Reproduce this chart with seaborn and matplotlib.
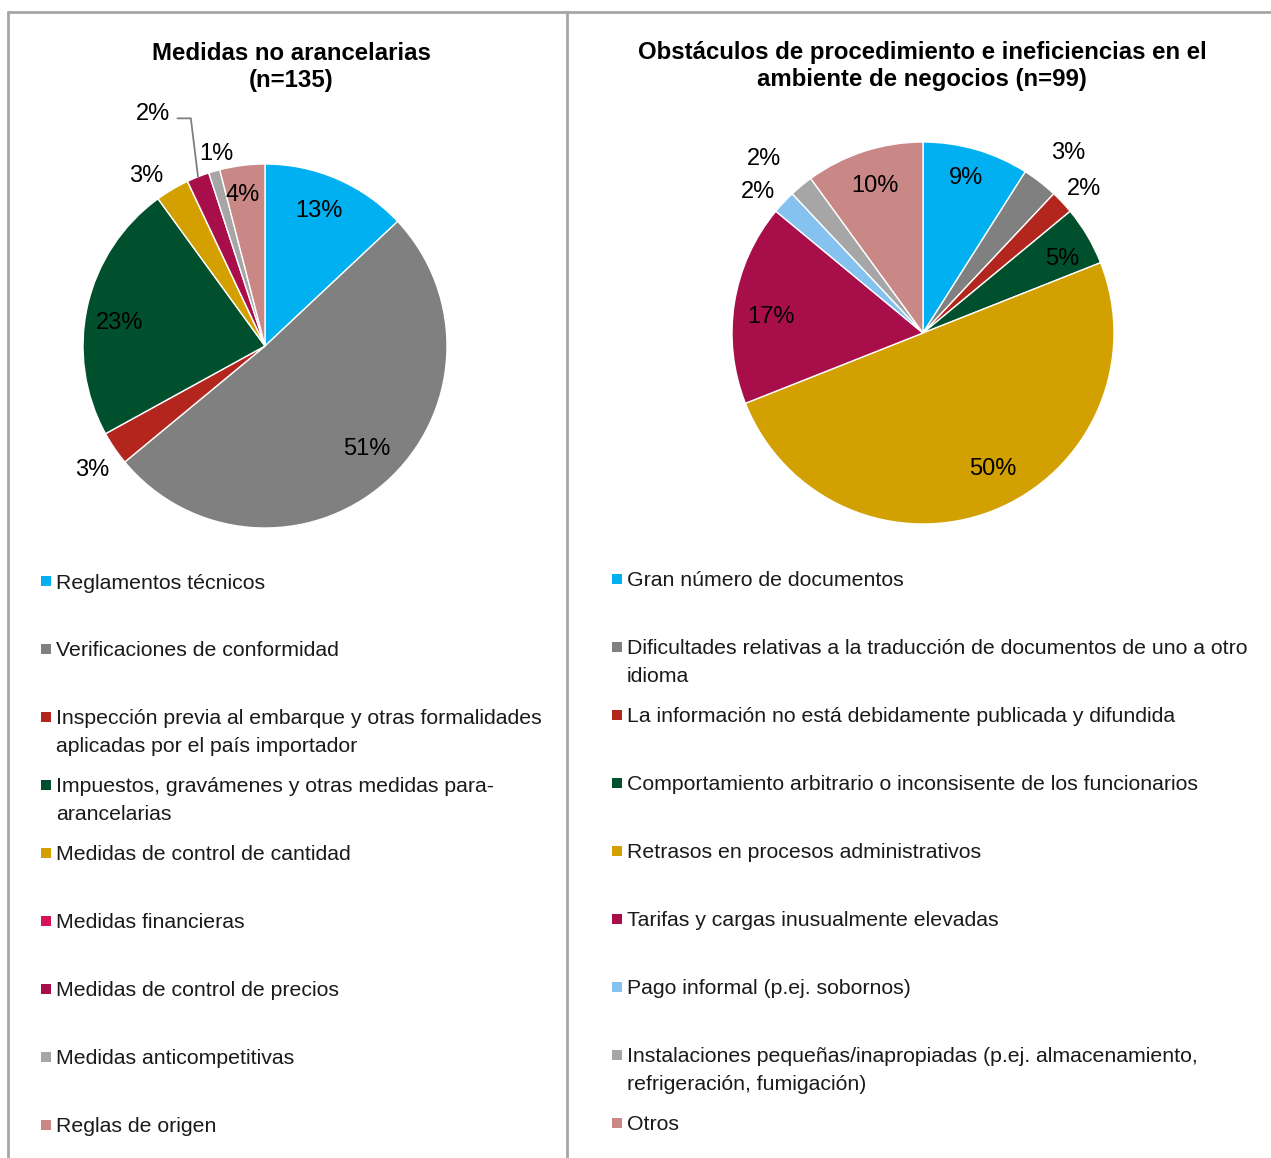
import re
import matplotlib
matplotlib.use("Agg")
import matplotlib.pyplot as plt
import matplotlib.transforms as mtransforms
import seaborn as sns
import numpy as np
from matplotlib.lines import Line2D
from matplotlib.patches import Rectangle

# ---------------- data ----------------
left_title = "Medidas no arancelarias\n(n=135)"
left_categories = [
    "Reglamentos técnicos",
    "Verificaciones de conformidad",
    "Inspección previa al embarque y otras formalidades aplicadas por el país importador",
    "Impuestos, gravámenes y otras medidas para-arancelarias",
    "Medidas de control de cantidad",
    "Medidas financieras",
    "Medidas de control de precios",
    "Medidas anticompetitivas",
    "Reglas de origen",
]
left_values = [13, 51, 3, 23, 3, 0, 2, 1, 4]
left_colors = ["#00b0f0", "#808080", "#b3261e", "#00502e", "#d4a000",
               "#d5135b", "#a80f4a", "#a6a6a6", "#c98786"]

right_title = "Obstáculos de procedimiento e ineficiencias en el\nambiente de negocios (n=99)"
right_categories = [
    "Gran número de documentos",
    "Dificultades relativas a la traducción de documentos de uno a otro idioma",
    "La información no está debidamente publicada y difundida",
    "Comportamiento arbitrario o inconsisente de los funcionarios",
    "Retrasos en procesos administrativos",
    "Tarifas y cargas inusualmente elevadas",
    "Pago informal (p.ej. sobornos)",
    "Instalaciones pequeñas/inapropiadas (p.ej. almacenamiento, refrigeración, fumigación)",
    "Otros",
]
right_values = [9, 3, 2, 5, 50, 17, 2, 2, 10]
right_colors = ["#00b0f0", "#808080", "#b3261e", "#00502e", "#d2a000",
                "#a80f4a", "#85c2f0", "#a6a6a6", "#c98786"]

# ---------------- style ----------------
sns.set_theme(style="white")
plt.rcParams["font.family"] = ["Liberation Sans", "DejaVu Sans"]

W, H = 1271, 1158
fig = plt.figure(figsize=(W / 100, H / 100), dpi=100)
fig.patch.set_facecolor("white")


def fx(x):
    return x / W


def fy(y):
    return 1 - y / H


BORDER = "#a6a6a6"
for (x0, y0, x1, y1) in [(8, 12, W, 12), (8, 12, 8, H), (567, 12, 567, H)]:
    fig.add_artist(Line2D([fx(x0), fx(x1)], [fy(y0), fy(y1)],
                          transform=fig.transFigure, color=BORDER, lw=2))

LABEL_FS = 17
TITLE_FS = 17.3
LEG_FS = 15.3


def draw_pie(cx, cy, R, values, colors, dist, dtheta, leader=None):
    lim = 1.35
    size = 2 * lim * R
    ax = fig.add_axes([fx(cx - lim * R), fy(cy + lim * R), size / W, size / H])
    wedges, _ = ax.pie(values, colors=colors, startangle=90, counterclock=False,
                       radius=1.0,
                       wedgeprops=dict(edgecolor="white", linewidth=1.0))
    ax.set_xlim(-lim, lim)
    ax.set_ylim(-lim, lim)
    ax.set_aspect("equal")
    ax.axis("off")
    tr = mtransforms.offset_copy(ax.transData, fig=fig, x=0, y=-2, units="dots")
    for i, (w, v) in enumerate(zip(wedges, values)):
        if v <= 0:
            continue
        mid_deg = (w.theta1 + w.theta2) / 2
        mid = np.deg2rad(mid_deg)
        txt = f"{v}%"
        if leader is not None and leader[0] == i:
            tx, ty = leader[1]
            ax.annotate(txt, xy=(np.cos(mid), np.sin(mid)), xytext=(tx, ty),
                        ha="right", va="center", fontsize=LABEL_FS, color="black",
                        arrowprops=dict(arrowstyle="-", color="#7f7f7f", lw=1.3,
                                        shrinkA=3, shrinkB=0, relpos=(1.0, 0.3),
                                        connectionstyle="angle,angleA=0,angleB=97,rad=0"))
            continue
        d = dist[i]
        a = np.deg2rad(mid_deg - dtheta[i])
        ax.text(d * np.cos(a), d * np.sin(a), txt, ha="center", va="center",
                fontsize=LABEL_FS, color="black", transform=tr)
    return ax


draw_pie(265, 346, 182, left_values, left_colors,
         dist=[0.81, 0.79, 1.16, 0.81, 1.15, 1.15, 1.15, 1.10, 0.85],
         dtheta=[-1.9, -3.9, -1.0, -2.9, -3.9, 0, 0, 2.1, -1.3],
         leader=(6, (-0.522, 1.275)))
draw_pie(923, 333, 191, right_values, right_colors,
         dist=[0.85, 1.22, 1.14, 0.83, 0.79, 0.80, 1.14, 1.24, 0.82],
         dtheta=[-0.8, 0.7, 1.0, 1.9, -6.0, -2.3, -2.3, -2.5, 0.3])

# titles
for title, cx, y_first in [(left_title, 291, 53), (right_title, 922, 52)]:
    for k, line in enumerate(title.split("\n")):
        fig.text(fx(cx), fy(y_first + 27.5 * k), line, ha="center", va="center",
                 fontsize=TITLE_FS, fontweight="bold", color="black")

# legends
renderer = fig.canvas.get_renderer()


def text_width(s):
    t = fig.text(0, 0, s, fontsize=LEG_FS)
    w = t.get_window_extent(renderer).width
    t.remove()
    return w


def wrap(label, maxpx):
    pieces = []
    for j, word in enumerate(label.split(" ")):
        subs = [p for p in re.split(r"(?<=-)", word) if p]
        for k, p in enumerate(subs):
            sep = " " if (j > 0 and k == 0) else ""
            pieces.append((p, sep))
    lines = []
    line = pieces[0][0]
    for p, sep in pieces[1:]:
        cand = line + sep + p
        if text_width(cand) <= maxpx:
            line = cand
        else:
            lines.append(line)
            line = p
    lines.append(line)
    return lines


def draw_legend(cats, colors, xm, xt, y0, step, maxpx):
    for i, (c, col) in enumerate(zip(cats, colors)):
        yc = y0 + step * i
        fig.add_artist(Rectangle((fx(xm), fy(yc + 5)), 10 / W, 10 / H,
                                 transform=fig.transFigure, facecolor=col,
                                 edgecolor="none"))
        for k, line in enumerate(wrap(c, maxpx)):
            fig.text(fx(xt), fy(yc + 2 + 27 * k), line, ha="left", va="center",
                     fontsize=LEG_FS, color="#1a1a1a")


draw_legend(left_categories, left_colors, 41, 56, 581, 68, 520)
draw_legend(right_categories, right_colors, 612, 627, 579, 68, 640)

fig.savefig("out.png", dpi=100, facecolor="white")
